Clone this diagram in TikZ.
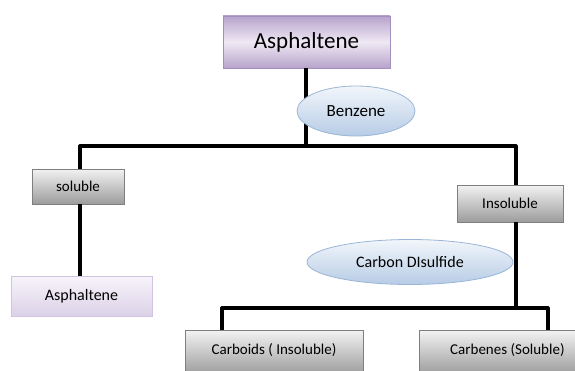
\documentclass[tikz,border=0pt]{standalone}
\usepackage{fontspec}
\setmainfont{Carlito}
\usetikzlibrary{shapes.geometric}
\definecolor{purpA}{HTML}{B8A3CC}
\definecolor{purpB}{HTML}{EEE8F3}
\definecolor{purpE}{HTML}{A58FBE}
\definecolor{grayT}{HTML}{F2F2F2}
\definecolor{grayB}{HTML}{9C9C9C}
\definecolor{grayE}{HTML}{7F7F7F}
\definecolor{blueT}{HTML}{F2F6FB}
\definecolor{blueB}{HTML}{B7CCE6}
\definecolor{blueE}{HTML}{9AB5D6}
\definecolor{lavT}{HTML}{F7F4FA}
\definecolor{lavB}{HTML}{DCD1E8}
\begin{document}
\begin{tikzpicture}[x=1pt,y=1pt,
  conn/.style={line width=3.2pt,line join=round,black},
  topbox/.style={rectangle,draw=purpE,line width=0.8pt,minimum width=167pt,minimum height=52pt,inner sep=0pt,
    top color=purpA,bottom color=purpA,middle color=purpB,font=\fontsize{23}{26}\selectfont},
  graybox/.style={rectangle,draw=grayE,line width=0.8pt,inner sep=0pt,
    top color=grayT,bottom color=grayB,font=\fontsize{15}{17}\selectfont},
  lavbox/.style={rectangle,draw=lavB!80!purpE,line width=0.8pt,inner sep=0pt,
    top color=lavT,bottom color=lavB,font=\fontsize{16}{18}\selectfont},
  oval/.style={ellipse,draw=blueE,line width=0.8pt,inner sep=0pt,
    top color=blueT,bottom color=blueB,font=\fontsize{17}{19}\selectfont}]
\useasboundingbox (0,0) rectangle (575,370);
% nodes
\node[topbox] (top) at (306.5,328) {Asphaltene};
\node[graybox,minimum width=92pt,minimum height=35pt] (sol) at (78,183.5) {soluble};
\node[lavbox,minimum width=141pt,minimum height=40pt] (asph) at (81.5,74) {Asphaltene};
\node[graybox,minimum width=106pt,minimum height=37pt] (insol) at (510,166.5) {Insoluble};
\node[graybox,minimum width=178pt,minimum height=44pt,anchor=north] (carboids) at (274,40) {\raisebox{6pt}{Carboids ( Insoluble)}};
\node[graybox,minimum width=181pt,minimum height=44pt,anchor=north west] (carbenes) at (419,40) {\raisebox{6pt}{\hspace*{-5pt}Carbenes (Soluble)}};
% junction coordinates
\coordinate (j1) at (306,224);
\coordinate (jl) at (80,224);
\coordinate (jr) at (516,224);
\coordinate (j2) at (516,62);
\coordinate (jbl) at (222,62);
\coordinate (jbr) at (548,62);
% connectors
\draw[conn] (top.south -| j1) -- (j1);
\draw[conn] (sol.north -| jl) -- (jl) -- (jr) -- (insol.north -| jr);
\draw[conn] (sol.south -| jl) -- (asph.north -| jl);
\draw[conn] (insol.south -| j2) -- (j2);
\draw[conn] (carboids.north -| jbl) -- (jbl) -- (jbr) -- (carbenes.north -| jbr);
% ellipses on top
\node[oval,minimum width=118pt,minimum height=50pt] (benz) at (356,259) {Benzene};
\node[oval,minimum width=206pt,minimum height=45pt,font=\fontsize{16}{18}\selectfont] (cs2) at (410,108) {Carbon DIsulfide};
\end{tikzpicture}
\end{document}
